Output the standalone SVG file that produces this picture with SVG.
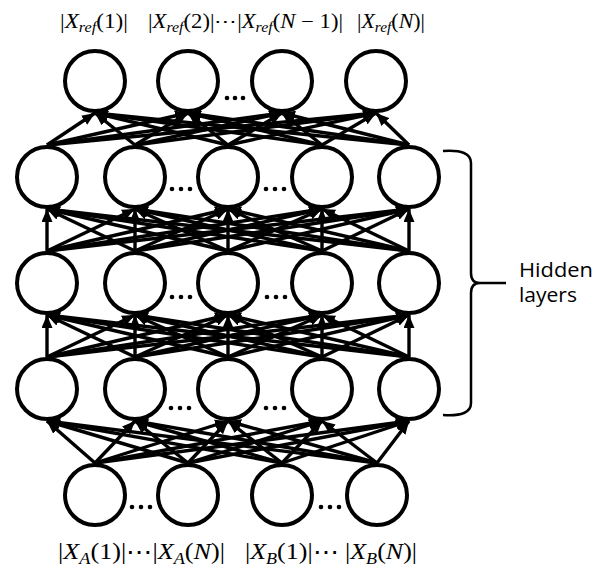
<svg xmlns="http://www.w3.org/2000/svg" width="609" height="567" viewBox="0 0 609 567">
<style>
.node{fill:#fff;stroke:#000;stroke-width:4}
.c path{fill:none;stroke:#000;stroke-width:3.4;marker-end:url(#ah)}
.dot{fill:#000}
.m{font-family:"Liberation Serif","DejaVu Serif",serif;fill:#000}
.i{font-style:italic}
.lbl{font-family:"Open Sans","Noto Sans",sans-serif;font-size:20px;fill:#000}
</style>
<defs>
<marker id="ah" markerUnits="userSpaceOnUse" markerWidth="13" markerHeight="11" refX="13" refY="5.5" orient="auto"><path d="M0,0 L13,5.5 L0,11 z" fill="#000"/></marker>
</defs>
<rect width="609" height="567" fill="#fff"/>
<g id="connectors" class="c">
<!-- H1 -> Output -->
<path d="M47 145L95 113"/><path d="M47 145L188 113"/><path d="M47 145L282 113"/><path d="M47 145L376 113"/>
<path d="M135 145L95 113"/><path d="M135 145L188 113"/><path d="M135 145L282 113"/><path d="M135 145L376 113"/>
<path d="M228 145L95 113"/><path d="M228 145L188 113"/><path d="M228 145L282 113"/><path d="M228 145L376 113"/>
<path d="M322 145L95 113"/><path d="M322 145L188 113"/><path d="M322 145L282 113"/><path d="M322 145L376 113"/>
<path d="M409 145L95 113"/><path d="M409 145L188 113"/><path d="M409 145L282 113"/><path d="M409 145L376 113"/>
<!-- H2 -> H1 -->
<path d="M47 251L47 209"/><path d="M47 251L135 209"/><path d="M47 251L228 209"/><path d="M47 251L322 209"/><path d="M47 251L409 209"/>
<path d="M135 251L47 209"/><path d="M135 251L135 209"/><path d="M135 251L228 209"/><path d="M135 251L322 209"/><path d="M135 251L409 209"/>
<path d="M228 251L47 209"/><path d="M228 251L135 209"/><path d="M228 251L228 209"/><path d="M228 251L322 209"/><path d="M228 251L409 209"/>
<path d="M322 251L47 209"/><path d="M322 251L135 209"/><path d="M322 251L228 209"/><path d="M322 251L322 209"/><path d="M322 251L409 209"/>
<path d="M409 251L47 209"/><path d="M409 251L135 209"/><path d="M409 251L228 209"/><path d="M409 251L322 209"/><path d="M409 251L409 209"/>
<!-- H3 -> H2 -->
<path d="M47 357L47 315"/><path d="M47 357L135 315"/><path d="M47 357L228 315"/><path d="M47 357L322 315"/><path d="M47 357L409 315"/>
<path d="M135 357L47 315"/><path d="M135 357L135 315"/><path d="M135 357L228 315"/><path d="M135 357L322 315"/><path d="M135 357L409 315"/>
<path d="M228 357L47 315"/><path d="M228 357L135 315"/><path d="M228 357L228 315"/><path d="M228 357L322 315"/><path d="M228 357L409 315"/>
<path d="M322 357L47 315"/><path d="M322 357L135 315"/><path d="M322 357L228 315"/><path d="M322 357L322 315"/><path d="M322 357L409 315"/>
<path d="M409 357L47 315"/><path d="M409 357L135 315"/><path d="M409 357L228 315"/><path d="M409 357L322 315"/><path d="M409 357L409 315"/>
<!-- Input -> H3 -->
<path d="M95 463L47 421"/><path d="M95 463L135 421"/><path d="M95 463L228 421"/><path d="M95 463L322 421"/><path d="M95 463L409 421"/>
<path d="M188 463L47 421"/><path d="M188 463L135 421"/><path d="M188 463L228 421"/><path d="M188 463L322 421"/><path d="M188 463L409 421"/>
<path d="M282 463L47 421"/><path d="M282 463L135 421"/><path d="M282 463L228 421"/><path d="M282 463L322 421"/><path d="M282 463L409 421"/>
<path d="M377 463L47 421"/><path d="M377 463L135 421"/><path d="M377 463L228 421"/><path d="M377 463L322 421"/><path d="M377 463L409 421"/>
</g>
<g id="output-layer">
<circle id="o1" class="node" cx="95" cy="81" r="30"/>
<circle id="o2" class="node" cx="188" cy="81" r="30"/>
<circle id="o3" class="node" cx="282" cy="81" r="30"/>
<circle id="o4" class="node" cx="376" cy="81" r="30"/>
<g class="dot"><circle cx="227" cy="98" r="2.3"/><circle cx="235" cy="98" r="2.3"/><circle cx="243" cy="98" r="2.3"/></g>
</g>
<g id="hidden-layer-1">
<circle id="h1a" class="node" cx="47" cy="177" r="30"/>
<circle id="h1b" class="node" cx="135" cy="177" r="30"/>
<circle id="h1c" class="node" cx="228" cy="177" r="30"/>
<circle id="h1d" class="node" cx="322" cy="177" r="30"/>
<circle id="h1e" class="node" cx="409" cy="177" r="30"/>
<g class="dot"><circle cx="172" cy="189" r="2.3"/><circle cx="181" cy="189" r="2.3"/><circle cx="190" cy="189" r="2.3"/><circle cx="266" cy="189" r="2.3"/><circle cx="275" cy="189" r="2.3"/><circle cx="284" cy="189" r="2.3"/></g>
</g>
<g id="hidden-layer-2">
<circle id="h2a" class="node" cx="47" cy="283" r="30"/>
<circle id="h2b" class="node" cx="135" cy="283" r="30"/>
<circle id="h2c" class="node" cx="228" cy="283" r="30"/>
<circle id="h2d" class="node" cx="322" cy="283" r="30"/>
<circle id="h2e" class="node" cx="409" cy="283" r="30"/>
<g class="dot"><circle cx="172" cy="297" r="2.3"/><circle cx="181" cy="297" r="2.3"/><circle cx="190" cy="297" r="2.3"/><circle cx="267" cy="297" r="2.3"/><circle cx="276" cy="297" r="2.3"/><circle cx="285" cy="297" r="2.3"/></g>
</g>
<g id="hidden-layer-3">
<circle id="h3a" class="node" cx="47" cy="389" r="30"/>
<circle id="h3b" class="node" cx="135" cy="389" r="30"/>
<circle id="h3c" class="node" cx="228" cy="389" r="30"/>
<circle id="h3d" class="node" cx="322" cy="389" r="30"/>
<circle id="h3e" class="node" cx="409" cy="389" r="30"/>
<g class="dot"><circle cx="171" cy="408" r="2.3"/><circle cx="180" cy="408" r="2.3"/><circle cx="189" cy="408" r="2.3"/><circle cx="266" cy="408" r="2.3"/><circle cx="275" cy="408" r="2.3"/><circle cx="284" cy="408" r="2.3"/></g>
</g>
<g id="input-layer">
<circle id="i1" class="node" cx="95" cy="495" r="30"/>
<circle id="i2" class="node" cx="188" cy="495" r="30"/>
<circle id="i3" class="node" cx="282" cy="495" r="30"/>
<circle id="i4" class="node" cx="377" cy="495" r="30"/>
<g class="dot"><circle cx="132" cy="507" r="2.3"/><circle cx="141" cy="507" r="2.3"/><circle cx="150" cy="507" r="2.3"/><circle cx="321" cy="507" r="2.3"/><circle cx="330" cy="507" r="2.3"/><circle cx="339" cy="507" r="2.3"/></g>
</g>
<g id="output-labels" class="m" font-size="20">
<text x="60" y="28" textLength="68" lengthAdjust="spacingAndGlyphs">|<tspan class="i">X</tspan><tspan class="i" font-size="14" dy="4">ref</tspan><tspan dy="-4">(1)|</tspan></text>
<text x="148" y="28" textLength="195" lengthAdjust="spacingAndGlyphs">|<tspan class="i">X</tspan><tspan class="i" font-size="14" dy="4">ref</tspan><tspan dy="-4">(2)|⋯|</tspan><tspan class="i">X</tspan><tspan class="i" font-size="14" dy="4">ref</tspan><tspan dy="-4">(</tspan><tspan class="i">N</tspan> − 1)|</text>
<text x="357" y="28" textLength="68" lengthAdjust="spacingAndGlyphs">|<tspan class="i">X</tspan><tspan class="i" font-size="14" dy="4">ref</tspan><tspan dy="-4">(</tspan><tspan class="i">N</tspan>)|</text>
</g>
<g id="input-labels" class="m" font-size="23">
<text x="58" y="559" textLength="167" lengthAdjust="spacingAndGlyphs">|<tspan class="i">X</tspan><tspan class="i" font-size="16" dy="5">A</tspan><tspan dy="-5">(1)|⋯|</tspan><tspan class="i">X</tspan><tspan class="i" font-size="16" dy="5">A</tspan><tspan dy="-5">(</tspan><tspan class="i">N</tspan>)|</text>
<text x="245" y="559" textLength="172" lengthAdjust="spacingAndGlyphs">|<tspan class="i">X</tspan><tspan class="i" font-size="16" dy="5">B</tspan><tspan dy="-5">(1)|⋯ |</tspan><tspan class="i">X</tspan><tspan class="i" font-size="16" dy="5">B</tspan><tspan dy="-5">(</tspan><tspan class="i">N</tspan>)|</text>
</g>
<g id="hidden-brace">
<path d="M443,151 Q471,149 471,163 L471,273 Q471,283 480,283 L506,283 M480,283 Q471,283 471,293 L471,403 Q471,417 443,415" fill="none" stroke="#000" stroke-width="2.5"/>
<text class="lbl" x="519" y="277" textLength="74" lengthAdjust="spacingAndGlyphs">Hidden</text>
<text class="lbl" x="519" y="302" textLength="58" lengthAdjust="spacingAndGlyphs">layers</text>
</g>
</svg>
